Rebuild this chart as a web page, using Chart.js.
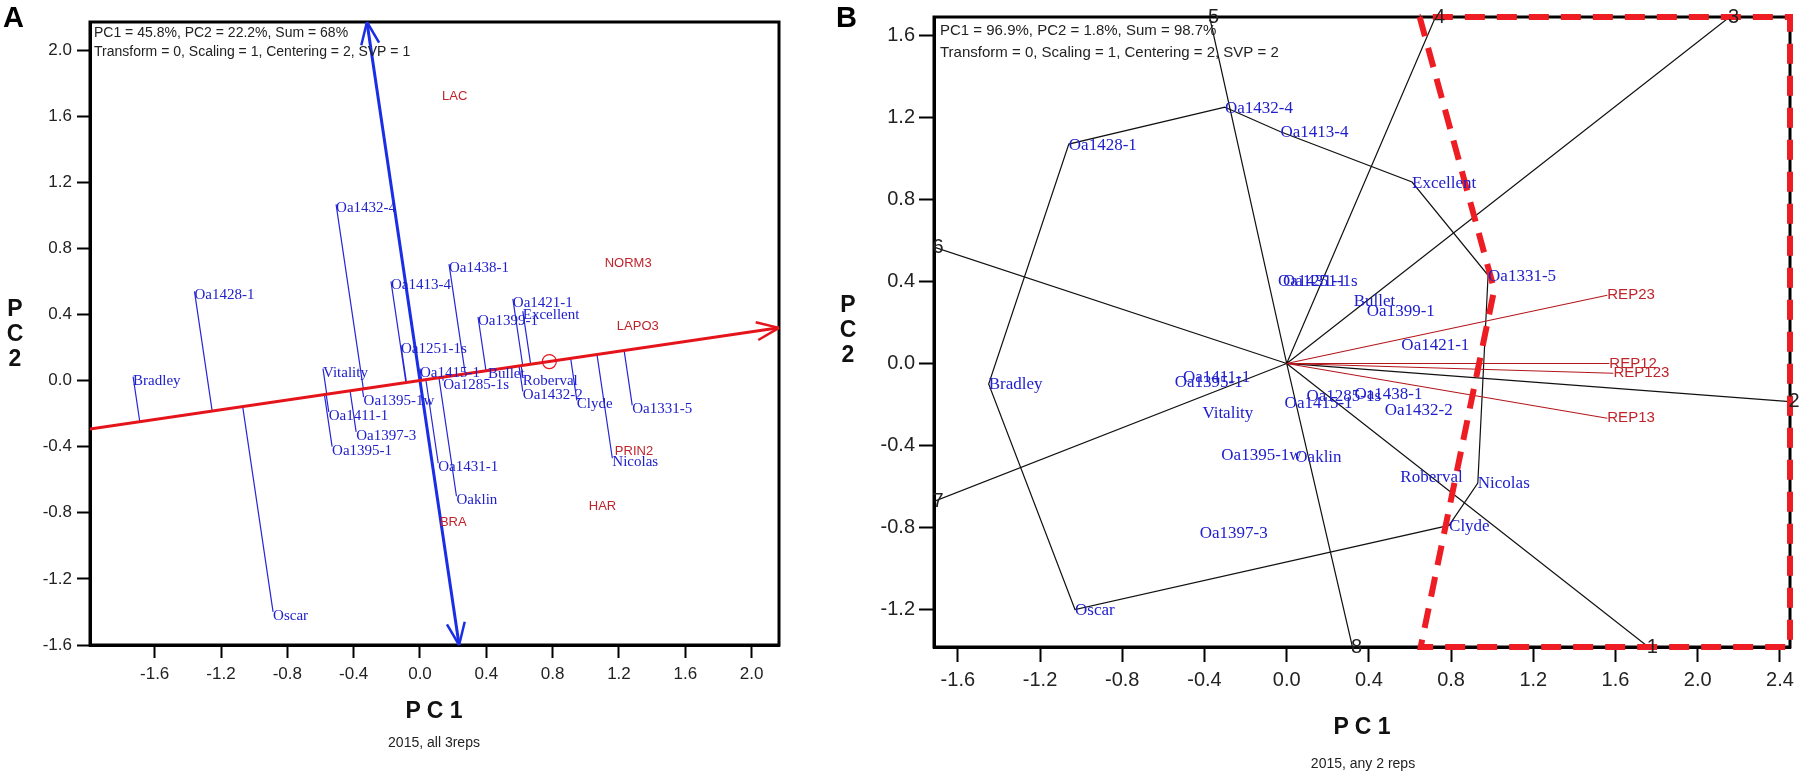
<!DOCTYPE html>
<html>
<head>
<meta charset="utf-8">
<script src="https://cdn.jsdelivr.net/npm/chart.js@4.4.1/dist/chart.umd.min.js"></script>
<style>
  body { margin: 0; background: #fff; width: 1813px; height: 780px; position: relative; overflow: hidden;
         font-family: Arial, "Liberation Sans", sans-serif; }
  canvas { position: absolute; top: 0; }
  #chartA { left: 0; }
  #chartB { left: 800px; }
  .txt { position: absolute; line-height: 1; color: #111; white-space: nowrap; }
  .panel { font-size: 29px; font-weight: bold; color: #000; }
  .axt { font-size: 23px; font-weight: bold; text-align: center; width: 200px; }
  .axv { font-size: 23px; font-weight: bold; text-align: center; width: 30px; line-height: 25px; }
  .sub { font-size: 14px; text-align: center; width: 300px; color: #222; }
</style>
</head>
<body>
<canvas id="chartA" width="800" height="780"></canvas>
<canvas id="chartB" width="1013" height="780"></canvas>

<div class="txt panel" style="left:3px;top:3px;">A</div>
<div class="txt panel" style="left:836px;top:3px;">B</div>
<div class="txt axt" style="left:334px;top:699px;">P C 1</div>
<div class="txt axt" style="left:1262px;top:715px;">P C 1</div>
<div class="txt axv" style="left:0px;top:296px;">P<br>C<br>2</div>
<div class="txt axv" style="left:833px;top:292px;">P<br>C<br>2</div>
<div class="txt sub" style="left:284px;top:735px;">2015, all 3reps</div>
<div class="txt sub" style="left:1213px;top:756px;">2015, any 2 reps</div>

<script>
// ---------- Panel A : which-won-where / mean vs stability, 2015 all 3 reps ----------
const genoA = ["Bradley", "Oa1428-1", "Oa1432-4", "Oa1413-4", "Oa1438-1", "Oa1421-1", "Excellent",
  "Oa1399-1", "Oa1251-1s", "Oa1415-1", "Bullet", "Oa1285-1s", "Roberval", "Oa1432-2", "Clyde",
  "Oa1331-5", "Nicolas", "Vitality", "Oa1395-1w", "Oa1411-1", "Oa1397-3", "Oa1395-1", "Oa1431-1",
  "Oaklin", "Oscar"];
const genoAx = [-1.73, -1.36, -0.506, -0.175, 0.175, 0.56, 0.62, 0.35, -0.115, 0.0, 0.41, 0.14, 0.62,
  0.62, 0.946, 1.28, 1.16, -0.585, -0.34, -0.55, -0.385, -0.53, 0.11, 0.22, -0.886];
const genoAy = [0.024, 0.54, 1.066, 0.60, 0.705, 0.494, 0.42, 0.385, 0.215, 0.072, 0.065, 0.0, 0.024,
  -0.066, -0.12, -0.15, -0.47, 0.072, -0.10, -0.19, -0.31, -0.40, -0.50, -0.70, -1.40];

const envA = ["LAC", "NORM3", "LAPO3", "PRIN2", "HAR", "BRA"];
const envAx = [0.133, 1.114, 1.187, 1.175, 1.018, 0.12];
const envAy = [1.717, 0.711, 0.325, -0.428, -0.759, -0.861];

const aecA = [0.78, 0.115];          // average environment (small circle)
const ticksA = [-1.6, -1.2, -0.8, -0.4, 0.0, 0.4, 0.8, 1.2, 1.6, 2.0];
const headerA = ["PC1 = 45.8%, PC2 = 22.2%, Sum = 68%",
                 "Transform = 0, Scaling = 1, Centering = 2, SVP = 1"];

// ---------- Panel B : polygon view, 2015 any 2 reps ----------
const genoB = ["Oa1432-4", "Oa1413-4", "Oa1428-1", "Excellent", "Oa1331-5", "Oa1431-1", "Oa1251-1s",
  "Bullet", "Oa1399-1", "Oa1421-1", "Bradley", "Oa1395-1", "Oa1411-1", "Vitality", "Oa1415-1",
  "Oa1285-1s", "Oa1438-1", "Oa1432-2", "Oa1395-1w", "Oaklin", "Roberval", "Nicolas", "Clyde",
  "Oa1397-3", "Oscar"];
const genoBx = [-0.30, -0.03, -1.06, 0.61, 0.98, -0.042, -0.018, 0.326, 0.39, 0.558, -1.45, -0.545,
  -0.505, -0.41, -0.01, 0.096, 0.33, 0.477, -0.318, 0.042, 0.553, 0.93, 0.79, -0.423, -1.03];
const genoBy = [1.25, 1.13, 1.07, 0.885, 0.43, 0.406, 0.406, 0.306, 0.257, 0.09, -0.10, -0.089,
  -0.064, -0.24, -0.19, -0.157, -0.145, -0.223, -0.445, -0.453, -0.551, -0.583, -0.79, -0.823, -1.20];

const hullB = ["Oa1432-4", "Oa1413-4", "Excellent", "Oa1331-5", "Nicolas", "Clyde", "Oscar",
  "Bradley", "Oa1428-1"];

const sectorB = ["1", "2", "3", "4", "5", "6", "7", "8"];
const rayBx = [1.76, 2.449, 2.155, 0.724, -0.375, -1.716, -1.716, 0.32];
const rayBy = [-1.383, -0.186, 1.69, 1.69, 1.69, 0.568, -0.673, -1.383];

const repB = ["REP23", "REP12", "REP123", "REP13"];
const repBx = [1.56, 1.57, 1.59, 1.56];
const repBy = [0.333, 0.0, -0.048, -0.267];

const megaBx = [0.647, 1.01, 0.652, 2.449, 2.449, 0.647];
const megaBy = [1.69, 0.36, -1.383, -1.383, 1.69, 1.69];

const ticksBx = [-1.6, -1.2, -0.8, -0.4, 0.0, 0.4, 0.8, 1.2, 1.6, 2.0, 2.4];
const ticksBy = [-1.2, -0.8, -0.4, 0.0, 0.4, 0.8, 1.2, 1.6];
const headerB = ["PC1 = 96.9%, PC2 = 1.8%, Sum = 98.7%",
                 "Transform = 0, Scaling = 1, Centering = 2, SVP = 2"];

// ---------- helpers ----------
const SANS = 'Arial, "Liberation Sans", sans-serif';
const SERIF = '"Times New Roman", "Liberation Serif", serif';
const BLUE = "#2020cc";
const DARKRED = "#c0242b";

const pts = (xs, ys) => xs.map((x, i) => ({ x: x, y: ys[i] }));

// segments joined by gaps
const segments = (pairs) => {
  const out = [];
  pairs.forEach(([a, b]) => { out.push(a, b, { x: b.x, y: null }); });
  return out;
};

function axis(min, max, ticks, size, tickLen, pad, fit, horizontal) {
  return {
    type: "linear", min: min, max: max,
    afterBuildTicks: (s) => { s.ticks = ticks.map((v) => ({ value: v })); },
    afterFit: (s) => { if (horizontal) s.height = fit; else s.width = fit; },
    grid: { drawOnChartArea: false, drawTicks: true, tickLength: tickLen, tickColor: "#000", tickWidth: 2 },
    border: { display: true, color: "#000", width: 3 },
    ticks: { padding: pad, color: "#222", autoSkip: false, maxRotation: 0,
             font: { size: size, family: SANS }, callback: (v) => v.toFixed(1) }
  };
}

// frame, header lines, text marks and arrow heads
const decor = {
  id: "decor",
  beforeDatasetsDraw(chart) {
    const { ctx, chartArea: a } = chart;
    ctx.save();
    ctx.strokeStyle = "#000";
    ctx.lineWidth = 3;
    ctx.strokeRect(a.left, a.top, a.right - a.left, a.bottom - a.top);
    ctx.restore();
  },
  afterDatasetsDraw(chart, args, opts) {
    const { ctx, chartArea: a, scales } = chart;
    const px = (v) => scales.x.getPixelForValue(v);
    const py = (v) => scales.y.getPixelForValue(v);
    ctx.save();
    // header
    ctx.fillStyle = "#222";
    ctx.font = opts.header.size + "px " + SANS;
    ctx.textBaseline = "middle";
    ctx.textAlign = "left";
    opts.header.lines.forEach((t, i) => {
      ctx.fillText(t, a.left + opts.header.dx, a.top + opts.header.y[i]);
    });
    // text marks
    opts.marks.forEach((m) => {
      ctx.font = m.font;
      ctx.fillStyle = m.color;
      ctx.textAlign = m.align || "left";
      ctx.textBaseline = "middle";
      m.names.forEach((n, i) => {
        ctx.fillText(n, px(m.xs[i]) + (m.dx || 0), py(m.ys[i]) + (m.dy || 0));
      });
    });
    // arrow heads
    (opts.arrows || []).forEach((ar) => {
      const fx = px(ar.from[0]), fy = py(ar.from[1]);
      const tx = px(ar.to[0]), ty = py(ar.to[1]);
      const len = Math.hypot(tx - fx, ty - fy);
      const ux = (tx - fx) / len, uy = (ty - fy) / len;
      const ang = 22 * Math.PI / 180, L = 24;
      ctx.strokeStyle = ar.color;
      ctx.lineWidth = ar.width;
      ctx.beginPath();
      [-1, 1].forEach((s) => {
        const c = Math.cos(ang), sn = Math.sin(ang) * s;
        const wx = ux * c - uy * sn, wy = ux * sn + uy * c;
        ctx.moveTo(tx, ty);
        ctx.lineTo(tx - L * wx, ty - L * wy);
      });
      ctx.stroke();
    });
    ctx.restore();
  }
};

// ---------- chart A ----------
const xMinA = -1.99, xMaxA = 2.165, yMinA = -1.6, yMaxA = 2.17;
const dd = aecA[0] * aecA[0] + aecA[1] * aecA[1];
const slopeA = aecA[1] / aecA[0];
const projA = segments(genoAx.map((x, i) => {
  const y = genoAy[i];
  const t = (x * aecA[0] + y * aecA[1]) / dd;
  return [{ x: x, y: y }, { x: t * aecA[0], y: t * aecA[1] }];
}));
const abscissaA = [{ x: xMinA, y: slopeA * xMinA }, { x: xMaxA, y: slopeA * xMaxA }];
const ordinateA = [{ x: -yMinA / slopeA * 0 + (-aecA[1] / aecA[0]) * yMinA, y: yMinA },
                   { x: (-aecA[1] / aecA[0]) * yMaxA, y: yMaxA }];

new Chart(document.getElementById("chartA"), {
  type: "scatter",
  data: {
    datasets: [
      { data: abscissaA, showLine: true, borderColor: "#e5141b", borderWidth: 3, pointRadius: 0 },
      { data: [{ x: aecA[0], y: aecA[1] }], pointRadius: 7, pointBorderColor: "#e5141b",
        pointBackgroundColor: "rgba(0,0,0,0)", pointBorderWidth: 1.2 },
      { data: ordinateA, showLine: true, borderColor: "#1a2ee6", borderWidth: 3, pointRadius: 0 },
      { data: projA, showLine: true, spanGaps: false, borderColor: "#2626d6", borderWidth: 1.2, pointRadius: 0 }
    ]
  },
  options: {
    responsive: false,
    animation: false,
    layout: { padding: { left: 0, right: 21, top: 22, bottom: 0 } },
    scales: {
      x: axis(xMinA, xMaxA, ticksA, 17, 13, 6, 135, true),
      y: axis(yMinA, yMaxA, ticksA, 17, 13, 5, 90, false)
    },
    plugins: {
      legend: { display: false },
      tooltip: { enabled: false },
      decor: {
        header: { lines: headerA, size: 14, dx: 4, y: [11, 30] },
        marks: [
          { names: genoA, xs: genoAx, ys: genoAy, font: "15px " + SERIF, color: BLUE, dx: 0, dy: 4 },
          { names: envA, xs: envAx, ys: envAy, font: "13px " + SANS, color: DARKRED }
        ],
        arrows: [
          { from: [0, 0], to: [abscissaA[1].x, abscissaA[1].y], color: "#e5141b", width: 2.5 },
          { from: [0, 0], to: [ordinateA[1].x, ordinateA[1].y], color: "#1a2ee6", width: 2.5 },
          { from: [0, 0], to: [ordinateA[0].x, ordinateA[0].y], color: "#1a2ee6", width: 2.5 }
        ]
      }
    }
  },
  plugins: [decor]
});

// ---------- chart B ----------
const xMinB = -1.716, xMaxB = 2.449, yMinB = -1.383, yMaxB = 1.69;
const hullPts = hullB.map((n) => ({ x: genoBx[genoB.indexOf(n)], y: genoBy[genoB.indexOf(n)] }));
hullPts.push(hullPts[0]);
const raysB = segments(rayBx.map((x, i) => [{ x: 0, y: 0 }, { x: x, y: rayBy[i] }]));
const repLines = segments(repBx.map((x, i) => [{ x: 0, y: 0 }, { x: x, y: repBy[i] }]));

new Chart(document.getElementById("chartB"), {
  type: "scatter",
  data: {
    datasets: [
      { data: pts(megaBx, megaBy), showLine: true, borderColor: "#ee1d23", borderWidth: 6,
        borderDash: [20, 12], pointRadius: 0, clip: false },
      { data: repLines, showLine: true, spanGaps: false, borderColor: "#b3161b", borderWidth: 1.1, pointRadius: 0 },
      { data: raysB, showLine: true, spanGaps: false, borderColor: "#111", borderWidth: 1.2, pointRadius: 0 },
      { data: hullPts, showLine: true, borderColor: "#111", borderWidth: 1.2, pointRadius: 0 }
    ]
  },
  options: {
    responsive: false,
    animation: false,
    layout: { padding: { left: 0, right: 23, top: 17, bottom: 0 } },
    scales: {
      x: axis(xMinB, xMaxB, ticksBx, 20, 15, 6, 133, true),
      y: axis(yMinB, yMaxB, ticksBy, 20, 15, 4, 134, false)
    },
    plugins: {
      legend: { display: false },
      tooltip: { enabled: false },
      decor: {
        header: { lines: headerB, size: 15, dx: 6, y: [14, 36] },
        marks: [
          { names: genoB, xs: genoBx, ys: genoBy, font: "17px " + SERIF, color: BLUE, dx: 0, dy: 1 },
          { names: repB, xs: repBx, ys: repBy, font: "15px " + SANS, color: DARKRED },
          { names: sectorB, xs: rayBx, ys: rayBy, font: "20px " + SANS, color: "#222", align: "center", dx: 4 }
        ]
      }
    }
  },
  plugins: [decor]
});
</script>
</body>
</html>
